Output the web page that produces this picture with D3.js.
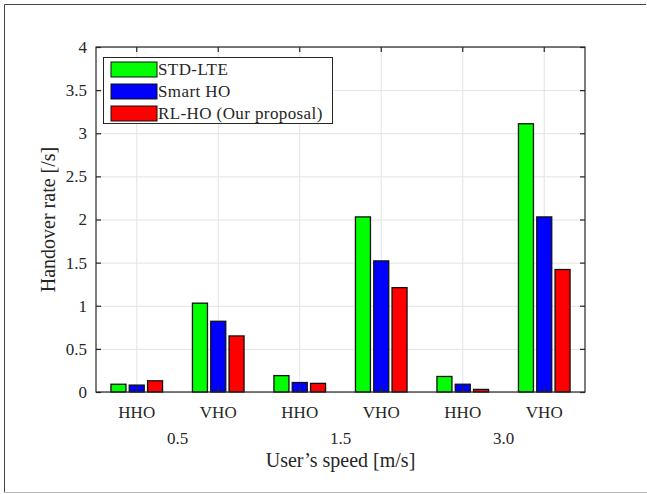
<!DOCTYPE html>
<html>
<head>
<meta charset="UTF-8">
<title>handover rate</title>
<script src="https://d3js.org/d3.v7.min.js"></script>
<style>
  body { margin: 0; background: #fff; }
  svg text { font-family: "Liberation Serif", "Times New Roman", serif !important; fill: #262626; }
</style>
</head>
<body>
<svg width="647" height="494"></svg>
<script>
// data
const categories = ["HHO", "VHO", "HHO", "VHO", "HHO", "VHO"];
const speeds = ["0.5", "1.5", "3.0"];
const series = ["STD-LTE", "Smart HO", "RL-HO (Our proposal)"];
const stdLte  = [0.09, 1.03, 0.19, 2.03, 0.18, 3.11];
const smartHo = [0.08, 0.82, 0.11, 1.52, 0.09, 2.03];
const rlHo    = [0.13, 0.65, 0.10, 1.21, 0.03, 1.42];
const yTicks = [0, 0.5, 1, 1.5, 2, 2.5, 3, 3.5, 4];
const colors = ["#00ff00", "#0000ff", "#ff0000"];

const values = [stdLte, smartHo, rlHo];

let svg = d3.select("svg");
let pLeft = 96, pRight = 585, pTop = 47, pBottom = 392;
let axisColor = "#262626";
let gridColor = "#e3e3e3";

// outer frame
svg.append("line").attr("x1", 4.5).attr("y1", 4.5).attr("x2", 646).attr("y2", 4.5).attr("stroke", "#444");
svg.append("line").attr("x1", 4.5).attr("y1", 4.5).attr("x2", 4.5).attr("y2", 492.5).attr("stroke", "#444");
svg.append("line").attr("x1", 4.5).attr("y1", 492.5).attr("x2", 647).attr("y2", 492.5).attr("stroke", "#bbb");

let x = d3.scaleBand().domain(d3.range(categories.length)).range([pLeft, pRight]).padding(0);
let y = d3.scaleLinear().domain([0, 4]).range([pBottom, pTop]);
let xInner = d3.scaleBand().domain(d3.range(series.length)).range([-25.8, 25.8]).paddingInner(0.18);
let cx = i => x(i) + x.bandwidth() / 2;

// grid
svg.append("g").selectAll("line").data(yTicks).join("line")
  .attr("x1", pLeft).attr("x2", pRight)
  .attr("y1", d => y(d) + 0.5).attr("y2", d => y(d) + 0.5)
  .attr("stroke", gridColor).attr("stroke-width", 1);
svg.append("g").selectAll("line").data(d3.range(categories.length)).join("line")
  .attr("x1", d => cx(d)).attr("x2", d => cx(d))
  .attr("y1", pTop).attr("y2", pBottom)
  .attr("stroke", gridColor).attr("stroke-width", 1);

// bars
values.forEach((vals, s) => {
  svg.append("g").selectAll("rect").data(vals).join("rect")
    .attr("x", (d, i) => cx(i) + xInner(s))
    .attr("y", d => y(d))
    .attr("width", xInner.bandwidth())
    .attr("height", d => pBottom - y(d))
    .attr("fill", colors[s])
    .attr("stroke", "#111")
    .attr("stroke-width", 1.3);
});

// axes (box with inward ticks)
let yAxis = d3.axisLeft(y).tickValues(yTicks).tickSize(-5).tickPadding(9).tickFormat(d3.format("~g"));
let yAxisR = d3.axisRight(y).tickValues(yTicks).tickSize(-5).tickFormat("");
let xAxis = d3.axisBottom(x).tickSize(-5).tickPadding(14).tickFormat(i => categories[i]);
let xAxisT = d3.axisTop(x).tickSize(-5).tickFormat("");

function styleAxis(g) {
  g.attr("font-family", null);
  g.select(".domain").remove();
  g.selectAll(".tick line").attr("stroke", axisColor).attr("stroke-width", 1.2);
  g.selectAll(".tick text").attr("fill", axisColor).style("font-size", "17px");
}
svg.append("g").attr("transform", `translate(${pLeft},0)`).call(yAxis).call(styleAxis);
svg.append("g").attr("transform", `translate(${pRight},0)`).call(yAxisR).call(styleAxis);
svg.append("g").attr("transform", `translate(0,${pBottom})`).call(xAxis).call(styleAxis);
svg.append("g").attr("transform", `translate(0,${pTop})`).call(xAxisT).call(styleAxis);
svg.append("rect").attr("x", pLeft).attr("y", pTop).attr("width", pRight - pLeft).attr("height", pBottom - pTop)
  .attr("fill", "none").attr("stroke", axisColor).attr("stroke-width", 1.2);

// speed labels
svg.append("g").selectAll("text").data(speeds).join("text")
  .attr("x", (d, i) => (cx(i * 2) + cx(i * 2 + 1)) / 2)
  .attr("y", 444)
  .attr("text-anchor", "middle")
  .style("font-size", "17px")
  .text(d => d);

// axis titles
svg.append("text")
  .attr("x", (pLeft + pRight) / 2).attr("y", 467)
  .attr("text-anchor", "middle")
  .style("font-size", "20px")
  .text("User\u2019s speed [m/s]");
svg.append("text")
  .attr("transform", `translate(55,${(pTop + pBottom) / 2}) rotate(-90)`)
  .attr("text-anchor", "middle")
  .style("font-size", "20px")
  .text("Handover rate [/s]");

// legend
let legend = svg.append("g").attr("transform", "translate(103,57)");
legend.append("rect").attr("x", 0.5).attr("y", 0.5).attr("width", 229).attr("height", 66)
  .attr("fill", "#fff").attr("stroke", axisColor).attr("stroke-width", 1);
series.forEach((name, s) => {
  legend.append("rect").attr("x", 8).attr("y", 5 + s * 22).attr("width", 46).attr("height", 15)
    .attr("fill", colors[s]).attr("stroke", "#111").attr("stroke-width", 1);
  legend.append("text").attr("x", 55).attr("y", 18 + s * 22)
    .style("font-size", "17px").style("letter-spacing", "0.4px").text(name);
});
</script>
</body>
</html>
